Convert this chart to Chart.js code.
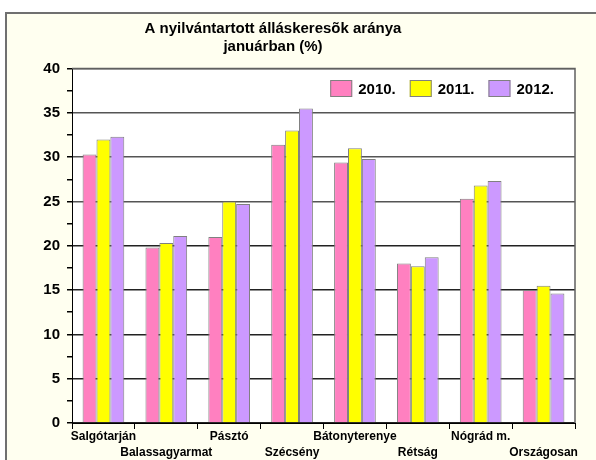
<!DOCTYPE html>
<html>
<head>
<meta charset="utf-8">
<script src="https://cdn.jsdelivr.net/npm/chart.js@4/dist/chart.umd.min.js"></script>
<style>
  html, body { margin: 0; padding: 0; background: #ffffff; }
  #wrap { width: 596px; height: 460px; }
</style>
</head>
<body>
<div id="wrap"><canvas id="c" width="596" height="460"></canvas></div>
<script>
const categories = ['Salgótarján', 'Balassagyarmat', 'Pásztó', 'Szécsény', 'Bátonyterenye', 'Rétság', 'Nógrád m.', 'Országosan'];
const seriesNames = ['2010.', '2011.', '2012.'];
const values2010 = [30.3, 19.8, 21.0, 31.4, 29.4, 18.0, 25.3, 15.0];
const values2011 = [32.0, 20.3, 25.0, 33.0, 31.0, 17.7, 26.8, 15.5];
const values2012 = [32.3, 21.1, 24.7, 35.5, 29.8, 18.7, 27.3, 14.6];
const titleLines = ['A nyilvántartott álláskeresõk aránya', 'januárban (%)'];

const FONT = "'Liberation Sans', Arial, sans-serif";
const colors = ['#FF80C0', '#FFFF00', '#CC99FF'];

const labels = categories.map((c, i) => i % 2 === 0 ? [c] : ['', c]);

const bgPlugin = {
  id: 'bg',
  beforeDraw(chart) {
    const ctx = chart.ctx;
    const a = chart.chartArea;
    ctx.save();
    ctx.fillStyle = '#ffffff';
    ctx.fillRect(0, 0, chart.width, chart.height);
    ctx.fillStyle = '#FFFFF0';
    ctx.fillRect(6, 13, chart.width - 6, chart.height - 13);
    ctx.strokeStyle = '#707070';
    ctx.lineWidth = 2;
    ctx.beginPath();
    ctx.moveTo(6, chart.height + 2);
    ctx.lineTo(6, 13);
    ctx.lineTo(chart.width + 2, 13);
    ctx.stroke();
    ctx.fillStyle = '#ffffff';
    ctx.fillRect(a.left, a.top, a.right - a.left, a.bottom - a.top);
    ctx.restore();
  },
  afterLayout(chart) {
    if (chart.titleBlock) {
      chart.titleBlock.left = 0;
      chart.titleBlock.right = 546;
      chart.titleBlock.width = 546;
    }
  },
  afterDraw(chart) {
    const ctx = chart.ctx;
    const a = chart.chartArea;
    ctx.save();
    ctx.strokeStyle = '#606060';
    ctx.lineWidth = 1.5;
    ctx.beginPath();
    ctx.moveTo(a.left, a.top);
    ctx.lineTo(a.right, a.top);
    ctx.lineTo(a.right, a.bottom);
    ctx.stroke();
    // legend
    ctx.font = 'bold 15px ' + FONT;
    ctx.textBaseline = 'middle';
    ctx.textAlign = 'left';
    const boxW = 22, boxH = 17, gap = 6, spacing = 14;
    const items = chart.data.datasets.map(d => ({label: d.label, color: d.backgroundColor, w: ctx.measureText(d.label).width}));
    let total = 0;
    items.forEach((it, i) => { total += boxW + gap + it.w + (i < items.length - 1 ? spacing : 0); });
    let x = a.right - 21 - total;
    const cy = a.top + 20;
    items.forEach(it => {
      ctx.fillStyle = it.color;
      ctx.fillRect(x, cy - boxH / 2, boxW, boxH);
      ctx.strokeStyle = '#808080';
      ctx.lineWidth = 1;
      ctx.strokeRect(x + 0.5, cy - boxH / 2 + 0.5, boxW - 1, boxH - 1);
      ctx.fillStyle = '#000000';
      ctx.fillText(it.label, x + boxW + gap, cy + 1);
      x += boxW + gap + it.w + spacing;
    });
    ctx.restore();
  }
};

new Chart(document.getElementById('c'), {
  type: 'bar',
  data: {
    labels: labels,
    datasets: [values2010, values2011, values2012].map((v, i) => ({
      label: seriesNames[i],
      data: v,
      backgroundColor: colors[i],
      borderColor: '#808080',
      borderWidth: 1,
      categoryPercentage: 0.663,
      barPercentage: 1.0
    }))
  },
  options: {
    responsive: false,
    animation: false,
    devicePixelRatio: 1,
    layout: { padding: { left: 0, right: 21, top: 0, bottom: 0 } },
    plugins: {
      legend: { display: false },
      tooltip: { enabled: false },
      title: {
        display: true,
        text: titleLines,
        color: '#000000',
        font: { family: FONT, size: 15, weight: 'bold', lineHeight: 1.25 },
        padding: { top: 19, bottom: 12 }
      }
    },
    scales: {
      x: {
        offset: true,
        grid: { display: true, offset: true, drawOnChartArea: false, tickLength: 6, tickColor: '#000000', color: '#000000' },
        border: { display: true, color: '#000000', width: 1 },
        ticks: {
          autoSkip: false, maxRotation: 0, minRotation: 0, color: '#000000', padding: 0,
          font: { family: FONT, size: 12, weight: 'bold', lineHeight: 1.3 }
        },
        afterFit(scale) { scale.height = 37; }
      },
      y: {
        min: 0, max: 40,
        grid: {
          color: (c) => (c.tick && c.tick.value % 5 === 0) ? (c.tick.value >= 25 ? '#555555' : '#222222') : 'rgba(0,0,0,0)',
          tickColor: '#000000',
          tickLength: 5,
          lineWidth: 1.5
        },
        border: { display: true, color: '#000000', width: 1 },
        ticks: {
          stepSize: 2.5,
          autoSkip: false,
          color: '#000000',
          padding: 7,
          font: { family: FONT, size: 15, weight: 'bold' },
          callback: (v) => (v % 5 === 0 ? String(v) : '')
        },
        afterFit(scale) { scale.width = 72; }
      }
    }
  },
  plugins: [bgPlugin]
});
</script>
</body>
</html>
